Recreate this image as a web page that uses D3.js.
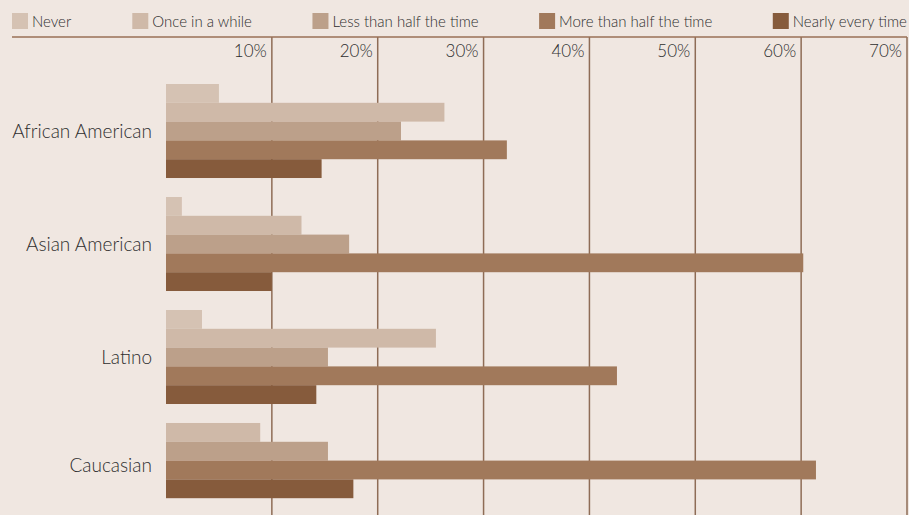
<!DOCTYPE html>
<html>
<head>
<meta charset="utf-8">
<script src="https://cdn.jsdelivr.net/npm/d3@7"></script>
<style>
  html, body { margin: 0; padding: 0; background: #f0e7e1; }
  svg { display: block; font-family: Lato, "Open Sans", sans-serif; font-weight: 300; }
</style>
</head>
<body>
<div id="chart"></div>
<script>
const groups = ["African American", "Asian American", "Latino", "Caucasian"]
const series = ["Never", "Once in a while", "Less than half the time", "More than half the time", "Nearly every time"]
const colors = ["#d5c2b3", "#cfb9a8", "#bca08a", "#a1795b", "#865b3c"]

// percent per group, in series order (null = no bar)
const never = [5.0, 1.5, 3.4, null]
const onceInAWhile = [26.3, 12.8, 25.5, 8.9]
const lessThanHalf = [22.2, 17.3, 15.3, 15.3]
const moreThanHalf = [32.2, 60.2, 42.6, 61.4]
const nearlyEvery = [14.7, 10.0, 14.2, 17.7]

const ticks = [10, 20, 30, 40, 50, 60, 70]

const W = 909, H = 515
const values = [never, onceInAWhile, lessThanHalf, moreThanHalf, nearlyEvery]

const data = groups.map((g, i) => ({
	group: g,
	bars: series.map((s, j) => ({ key: s, idx: j, value: values[j][i] }))
		.filter(d => d.value != null)
}))

const svg = d3.select("#chart").append("svg")
	.attr("width", W)
	.attr("height", H)

svg.append("rect").attr("width", W).attr("height", H).attr("fill", "#f0e7e1")

// x scale
const x = d3.scaleLinear()
	.domain([0, 70])
	.range([166, 907])

// y scales
const y0 = d3.scaleBand()
	.domain(groups)
	.range([84, 517])
	.paddingInner(0.168)

const y1 = d3.scaleBand()
	.domain(d3.range(series.length))
	.range([0, y0.bandwidth()])

// gridlines
svg.append("g").selectAll("line")
	.data(ticks)
	.enter().append("line")
	.attr("x1", d => x(d)).attr("x2", d => x(d))
	.attr("y1", 37).attr("y2", H)
	.attr("stroke", "#8e6c56")
	.attr("stroke-width", 1.5)

// top axis line
svg.append("line")
	.attr("x1", 12).attr("x2", 907)
	.attr("y1", 37).attr("y2", 37)
	.attr("stroke", "#9a7156")
	.attr("stroke-width", 1.5)

// tick labels
svg.append("g").selectAll("text")
	.data(ticks)
	.enter().append("text")
	.attr("x", d => x(d) - 5)
	.attr("y", 57)
	.attr("text-anchor", "end")
	.attr("font-size", 17)
	.attr("fill", "#2e2e2e")
	.text(d => d + "%")

// bars
const gEl = svg.append("g").selectAll("g")
	.data(data)
	.enter().append("g")
	.attr("transform", d => `translate(0, ${y0(d.group)})`)

gEl.selectAll("rect")
	.data(d => d.bars.map((b, k) => Object.assign({ pos: k }, b)))
	.enter().append("rect")
	.attr("x", x(0))
	.attr("y", d => y1(d.pos))
	.attr("width", d => x(d.value) - x(0))
	.attr("height", y1.bandwidth())
	.attr("fill", d => colors[d.idx])

// group labels
gEl.append("text")
	.attr("x", 152)
	.attr("y", d => d.bars.length * y1.bandwidth() / 2 + (d.bars.length < series.length ? 5 : 0))
	.attr("dy", "0.35em")
	.attr("text-anchor", "end")
	.attr("font-size", 19)
	.attr("fill", "#2e2e2e")
	.text(d => d.group)

// legend, spread across the top
const legend = svg.append("g")
const items = legend.selectAll("g")
	.data(series)
	.enter().append("g")

items.append("rect")
	.attr("width", 16).attr("height", 16)
	.attr("y", 13)
	.attr("fill", (d, i) => colors[i])

items.append("text")
	.attr("x", 20)
	.attr("y", 27)
	.attr("font-size", 15)
	.attr("fill", "#2e2e2e")
	.text(d => d)

const widths = []
items.each(function() { widths.push(this.getBBox().width) })
const total = d3.sum(widths)
const gap = (907 - 12 - total) / (series.length - 1)
let cx = 12
items.attr("transform", (d, i) => {
	const t = `translate(${cx}, 0)`
	cx += widths[i] + gap
	return t
})
</script>
</body>
</html>
